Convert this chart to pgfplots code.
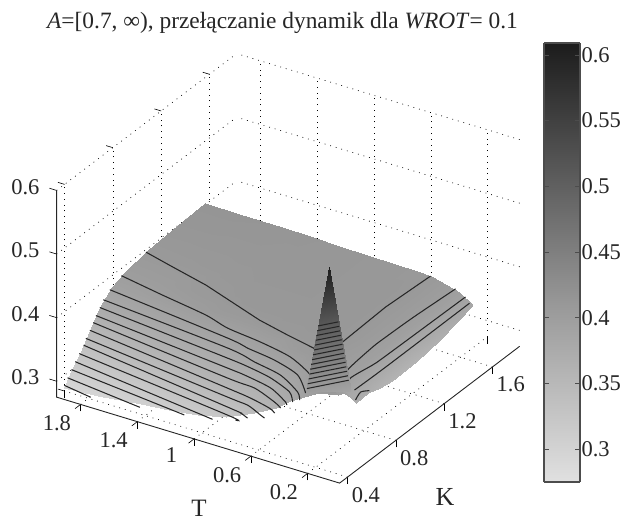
\documentclass[border=0pt]{standalone}
\usepackage{fontspec}
\setmainfont{Liberation Serif}
\usepackage{pgfplots}
\pgfplotsset{compat=1.18}
\pgfplotsset{colormap={sg}{gray(0cm)=(0.88); gray(2cm)=(0.6); gray(5cm)=(0.11)}}
\begin{document}
\begin{tikzpicture}[x=1pt,y=1pt]
\path[use as bounding box] (0,0) rectangle (626,520);
\begin{axis}[
  at={(336pt,38pt)}, anchor=origin,
  disabledatascaling,
  x dir=reverse,
  x={(141.9pt,-43.1pt)}, y={(120.75pt,91.75pt)}, z={(0pt,636pt)},
  xmin=-0.0255, xmax=1.969, ymin=0.334, ymax=1.825, zmin=0.275, zmax=0.6,
  clip=false,
  colormap name=sg, point meta min=0.275, point meta max=0.609,
  xtick={0.2,0.6,1,1.4,1.8}, ytick={0.4,0.8,1.2,1.6}, ztick={0.3,0.4,0.5,0.6},
  xtick pos=left, ytick pos=left, ztick pos=left,
  grid=major,
  grid style={black, line width=0.7pt, dash pattern=on 0.8pt off 5pt},
  axis line style={draw=none},
  tick style={black, line width=0.6pt},
  z tick style={draw=none},
  tick align=outside, major tick length=7pt,
  /pgf/number format/assume math mode=true,
  tick label style={font=\fontsize{22.5}{26}\selectfont, black!85},
  xticklabel style={xshift=-11pt},
  zticklabel style={xshift=-8pt, yshift=11pt},
]
% surface (without the spike at the front corner)
\addplot3[surf, shader=interp, mesh/ordering=y varies] coordinates {
(0.03,0.334,0.42) (0.03,0.384,0.402) (0.03,0.434,0.398) (0.03,0.484,0.385) (0.03,0.534,0.369) (0.03,0.634,0.37) (0.03,0.734,0.363) (0.03,0.834,0.36) (0.03,1.034,0.36) (0.03,1.234,0.367) (0.03,1.502,0.382)

(0.13,0.334,0.406) (0.13,0.384,0.405) (0.13,0.434,0.404) (0.13,0.484,0.40) (0.13,0.534,0.397) (0.13,0.634,0.396) (0.13,0.734,0.396) (0.13,0.834,0.396) (0.13,1.034,0.396) (0.13,1.234,0.396) (0.13,1.502,0.397)

(0.225,0.334,0.393) (0.225,0.384,0.40) (0.225,0.434,0.402) (0.225,0.484,0.404) (0.225,0.534,0.404) (0.225,0.634,0.403) (0.225,0.734,0.402) (0.225,0.834,0.403) (0.225,1.034,0.403) (0.225,1.234,0.403) (0.225,1.502,0.403)

(0.325,0.334,0.38) (0.325,0.384,0.386) (0.325,0.434,0.393) (0.325,0.484,0.399) (0.325,0.534,0.402) (0.325,0.634,0.405) (0.325,0.734,0.407) (0.325,0.834,0.408) (0.325,1.034,0.408) (0.325,1.234,0.408) (0.325,1.502,0.408)

(0.425,0.334,0.362) (0.425,0.384,0.373) (0.425,0.434,0.381) (0.425,0.484,0.389) (0.425,0.534,0.398) (0.425,0.634,0.406) (0.425,0.734,0.409) (0.425,0.834,0.41) (0.425,1.034,0.41) (0.425,1.234,0.41) (0.425,1.502,0.409)

(0.575,0.334,0.344) (0.575,0.384,0.36) (0.575,0.434,0.366) (0.575,0.484,0.378) (0.575,0.534,0.387) (0.575,0.634,0.403) (0.575,0.734,0.409) (0.575,0.834,0.41) (0.575,1.034,0.41) (0.575,1.234,0.41) (0.575,1.502,0.41)

(0.775,0.334,0.324) (0.775,0.384,0.35) (0.775,0.434,0.361) (0.775,0.484,0.369) (0.775,0.534,0.378) (0.775,0.634,0.394) (0.775,0.734,0.408) (0.775,0.834,0.41) (0.775,1.034,0.411) (0.775,1.234,0.411) (0.775,1.502,0.411)

(0.975,0.334,0.315) (0.975,0.384,0.341) (0.975,0.434,0.356) (0.975,0.484,0.365) (0.975,0.534,0.374) (0.975,0.634,0.39) (0.975,0.734,0.405) (0.975,0.834,0.41) (0.975,1.034,0.411) (0.975,1.234,0.412) (0.975,1.502,0.412)

(1.175,0.334,0.309) (1.175,0.384,0.328) (1.175,0.434,0.349) (1.175,0.484,0.361) (1.175,0.534,0.37) (1.175,0.634,0.388) (1.175,0.734,0.405) (1.175,0.834,0.409) (1.175,1.034,0.411) (1.175,1.234,0.412) (1.175,1.502,0.413)

(1.375,0.334,0.304) (1.375,0.384,0.321) (1.375,0.434,0.337) (1.375,0.484,0.354) (1.375,0.534,0.366) (1.375,0.634,0.386) (1.375,0.734,0.401) (1.375,0.834,0.407) (1.375,1.034,0.41) (1.375,1.234,0.412) (1.375,1.502,0.414)

(1.675,0.334,0.296) (1.675,0.384,0.313) (1.675,0.434,0.327) (1.675,0.484,0.344) (1.675,0.534,0.357) (1.675,0.634,0.382) (1.675,0.734,0.396) (1.675,0.834,0.402) (1.675,1.034,0.409) (1.675,1.234,0.412) (1.675,1.502,0.415)

(1.92,0.334,0.292) (1.92,0.384,0.308) (1.92,0.434,0.321) (1.92,0.484,0.333) (1.92,0.534,0.347) (1.92,0.634,0.376) (1.92,0.734,0.393) (1.92,0.834,0.401) (1.92,1.034,0.4085) (1.92,1.234,0.412) (1.92,1.502,0.415)
};
% contour lines
\pgfplotsset{cl/.style={black!85, line width=1.05pt, no marks, smooth, tension=0.45}}
\addplot3[cl] coordinates {(1.92,0.34,0.296) (1.71,0.31,0.296)};
\addplot3[cl] coordinates {(1.92,0.367,0.304) (1.36,0.308,0.304)};
\addplot3[cl] coordinates {(1.92,0.40,0.312) (1.052,0.314,0.312)};
\addplot3[cl] coordinates {(1.92,0.431,0.32) (0.847,0.307,0.32)};
\addplot3[cl] coordinates {(1.92,0.464,0.328) (0.766,0.336,0.328) (0.693,0.316,0.328)};
\addplot3[cl] coordinates {(1.92,0.50,0.336) (0.785,0.359,0.336) (0.68,0.343,0.336) (0.612,0.32,0.336)};
\addplot3[cl] coordinates {(1.92,0.519,0.344) (0.818,0.397,0.344) (0.664,0.382,0.344) (0.533,0.335,0.344) (0.493,0.321,0.344)};
\addplot3[cl] coordinates {(1.92,0.552,0.352) (0.844,0.427,0.352) (0.662,0.404,0.352) (0.499,0.37,0.352) (0.441,0.344,0.352)};
\addplot3[cl] coordinates {(1.92,0.58,0.36) (0.877,0.466,0.36) (0.675,0.452,0.36) (0.481,0.39,0.36) (0.411,0.358,0.36)};
\addplot3[cl] coordinates {(1.92,0.602,0.368) (0.909,0.504,0.368) (0.777,0.49,0.368) (0.56,0.451,0.368) (0.392,0.377,0.368) (0.367,0.356,0.368)};
\addplot3[cl] coordinates {(1.92,0.634,0.376) (0.942,0.542,0.376) (0.76,0.52,0.376) (0.592,0.489,0.376) (0.405,0.425,0.376) (0.323,0.354,0.376)};
\addplot3[cl] coordinates {(1.92,0.663,0.384) (0.974,0.581,0.384) (0.746,0.536,0.384) (0.528,0.495,0.384) (0.33,0.404,0.384) (0.267,0.346,0.384)};
\addplot3[cl] coordinates {(1.92,0.717,0.392) (1.007,0.619,0.392) (0.84,0.588,0.392) (0.624,0.558,0.392) (0.409,0.497,0.392) (0.249,0.375,0.392)};
\addplot3[cl] coordinates {(1.92,0.814,0.40) (1.585,0.76,0.40) (1.234,0.707,0.40) (1.039,0.657,0.40) (0.78,0.626,0.40) (0.53,0.58,0.40) (0.31,0.487,0.40) (0.244,0.409,0.40)};
\addplot3[black!85, line width=1.05pt, no marks] coordinates {(1.92,1.016,0.408) (1.716,0.97,0.408) (1.399,0.901,0.408) (0.897,0.755,0.408) (0.657,0.705,0.408) (0.407,0.659,0.408) (0.334,0.78,0.408) (0.349,1.155,0.408) (0.328,1.502,0.408)};
\addplot3[cl] coordinates {(0.151,1.502,0.40) (0.175,1.184,0.40) (0.183,0.961,0.40) (0.183,0.852,0.40) (0.157,0.614,0.40) (0.095,0.534,0.40)};
\addplot3[cl] coordinates {(0.081,1.502,0.392) (0.092,0.853,0.392) (0.098,0.752,0.392) (0.123,0.598,0.392) (0.075,0.504,0.392)};
\addplot3[cl] coordinates {(0.053,1.502,0.384) (0.052,0.807,0.384) (0.057,0.554,0.384)};
\addplot3[cl] coordinates {(0.053,0.558,0.368) (0.08,0.632,0.368) (0.045,0.664,0.368)};
% spike at the front corner
\addplot3[surf, shader=interp] coordinates {
(0.05,0.334,0.61) (0.05,0.514,0.388)

(0.21,0.334,0.402) (0.21,0.514,0.38)
};
\pgfplotsset{st/.style={black!85, line width=1.05pt, no marks}}
\addplot3[st] coordinates {(0.125,0.334,0.512) (0.05,0.413,0.512)};
\addplot3[st] coordinates {(0.132,0.334,0.504) (0.05,0.42,0.504)};
\addplot3[st] coordinates {(0.138,0.334,0.496) (0.05,0.426,0.496)};
\addplot3[st] coordinates {(0.144,0.334,0.488) (0.05,0.433,0.488)};
\addplot3[st] coordinates {(0.15,0.334,0.48) (0.05,0.44,0.48)};
\addplot3[st] coordinates {(0.156,0.334,0.472) (0.05,0.446,0.472)};
\addplot3[st] coordinates {(0.162,0.334,0.464) (0.05,0.452,0.464)};
\addplot3[st] coordinates {(0.168,0.334,0.456) (0.05,0.459,0.456)};
\addplot3[st] coordinates {(0.175,0.334,0.448) (0.05,0.465,0.448)};
\addplot3[st] coordinates {(0.181,0.334,0.44) (0.05,0.472,0.44)};
\addplot3[st] coordinates {(0.187,0.334,0.432) (0.05,0.478,0.432)};
\addplot3[st] coordinates {(0.193,0.334,0.424) (0.05,0.485,0.424)};
\addplot3[st] coordinates {(0.199,0.334,0.416) (0.05,0.491,0.416)};
\addplot3[st] coordinates {(0.205,0.334,0.408) (0.05,0.498,0.408)};
% axis lines and the ticks of the vertical axis
\addplot3[black!85, line width=0.9pt, no marks] coordinates {(1.969,0.334,0.6) (1.969,0.334,0.275) (-0.0255,0.334,0.275) (-0.0255,1.825,0.275)};
\addplot3[black, line width=0.6pt, no marks] coordinates {(1.969,0.334,0.6) (2.02,0.334,0.6)};
\addplot3[black, line width=0.6pt, no marks] coordinates {(1.969,0.334,0.5) (2.02,0.334,0.5)};
\addplot3[black, line width=0.6pt, no marks] coordinates {(1.969,0.334,0.4) (2.02,0.334,0.4)};
\addplot3[black, line width=0.6pt, no marks] coordinates {(1.969,0.334,0.3) (2.02,0.334,0.3)};
\end{axis}
% colour bar, as a small axis of its own
\begin{axis}[
  at={(544pt,38pt)}, anchor=south west,
  scale only axis, width=36pt, height=439pt,
  view={0}{90},
  xmin=0, xmax=1, ymin=0.275, ymax=0.609,
  colormap name=sg, point meta min=0.275, point meta max=0.609,
  xtick=\empty,
  ytick={0.3,0.35,0.4,0.45,0.5,0.55,0.6},
  tick align=inside, major tick length=5pt,
  axis on top,
  axis line style={black!70, line width=1.2pt},
  tick style={black!70, line width=0.6pt},
  ytick pos=both, yticklabel pos=right,
  /pgf/number format/assume math mode=true,
  /pgf/number format/fixed,
  yticklabel style={font=\fontsize{22.5}{26}\selectfont, black!85, xshift=-2pt},
]
\addplot3[surf, shader=interp] coordinates {
(0,0.275,0.275) (1,0.275,0.275)

(0,0.4086,0.4086) (1,0.4086,0.4086)

(0,0.609,0.609) (1,0.609,0.609)
};
\end{axis}
\node[font=\fontsize{23.4}{26}\selectfont, black!85] at (282.5,497) {\textit{A}=[0.7, ∞), przełączanie dynamik dla \textit{WROT}= 0.1};
\node[font=\fontsize{25}{28}\selectfont, black!85] at (199,12) {T};
\node[font=\fontsize{26}{28}\selectfont, black!85] at (445,23) {K};
\end{tikzpicture}
\end{document}
